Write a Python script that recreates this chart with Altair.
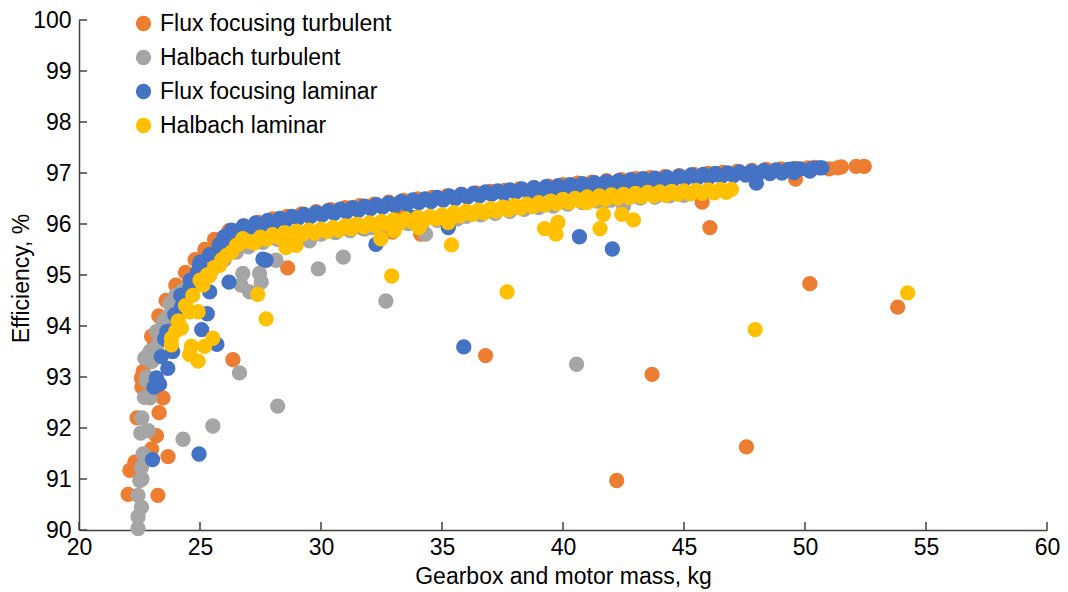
import altair as alt
import pandas as pd

series_names = ["Flux focusing turbulent", "Halbach turbulent", "Flux focusing laminar", "Halbach laminar"]
series_colors = ["#ED7D31", "#A5A5A5", "#4472C4", "#FFC000"]

x_ticks = [20, 25, 30, 35, 40, 45, 50, 55, 60]
y_ticks = [90, 91, 92, 93, 94, 95, 96, 97, 98, 99, 100]

# Flux focusing turbulent
fft_x = [22.03, 22.1, 22.31, 23.26, 23.0, 23.68, 23.2, 23.31, 22.79, 23.47, 22.58, 22.65, 22.9, 23.1,
         23.47, 23.3, 23.8, 24.1, 24.5, 24.9, 25.4, 25.88, 25.6, 26.36, 28.62, 26.0,
         22.4, 22.6, 22.8, 23.0, 23.3, 23.6, 24.0, 24.4, 24.8, 25.2, 25.6,
         36.8, 43.68, 47.58, 42.22, 50.2, 53.83, 32.74, 32.95, 33.37, 34.12, 45.75, 46.07, 49.61,
         51.36, 52.11, 52.45, 50.12, 51.0, 51.5,
         26.2, 26.8, 27.4, 28.0, 28.6, 29.2, 29.8, 30.4, 31.0, 31.6, 32.2, 32.8, 33.4, 34.0, 34.6,
         35.2, 35.8, 36.4, 37.0, 37.6, 38.2, 38.8, 39.4, 40.0, 40.6, 41.2, 41.8, 42.4, 43.0, 43.6,
         44.2, 44.8, 45.4, 46.0, 46.6, 47.2, 47.8, 48.4, 49.0, 49.6, 50.4]
fft_y = [90.7, 91.17, 91.33, 90.68, 91.59, 91.44, 91.85, 92.3, 92.66, 92.59, 92.98, 93.11, 93.3, 93.6,
         94.09, 93.9, 94.2, 94.5, 94.8, 95.05, 95.45, 95.64, 95.3, 93.34, 95.14, 95.6,
         92.2, 92.8, 93.4, 93.8, 94.2, 94.5, 94.8, 95.05, 95.3, 95.5, 95.7,
         93.42, 93.05, 91.63, 90.97, 94.83, 94.37, 95.93, 95.84, 96.13, 95.8, 96.43, 95.93, 96.88,
         97.1, 97.13, 97.13, 97.1, 97.08, 97.12,
         95.87, 95.96, 96.03, 96.1, 96.15, 96.2, 96.24, 96.28, 96.32, 96.36, 96.39, 96.43, 96.46, 96.49, 96.52,
         96.55, 96.58, 96.61, 96.64, 96.66, 96.69, 96.71, 96.74, 96.77, 96.8, 96.82, 96.85, 96.87, 96.89, 96.91,
         96.93, 96.95, 96.97, 96.99, 97.01, 97.03, 97.05, 97.07, 97.08, 97.09, 97.11]

# Halbach turbulent
ht_x = [22.44, 22.44, 22.58, 22.44, 22.51, 22.58, 22.65, 22.86, 22.93, 22.79, 22.72, 22.93, 23.2, 23.75,
        24.3, 24.71, 24.0, 23.5, 25.1, 25.53, 24.3, 26.63, 28.21, 26.77, 27.46, 27.53, 27.05, 26.7,
        28.14, 29.89, 30.92, 29.52, 32.68, 32.06, 34.32, 35.63, 37.62, 39.61, 41.74, 42.5, 40.56,
        22.6, 22.7, 22.8, 23.0, 23.2, 23.4, 23.7, 24.0, 24.4, 24.8, 25.3, 22.55, 22.6,
        25.5, 26.0, 26.5, 27.0,
        27.6, 28.2, 28.8, 29.4, 30.0, 30.6, 31.2, 31.8, 32.4, 33.0, 33.6, 34.2, 34.8, 35.4, 36.0,
        36.6, 37.2, 37.8, 38.4, 39.0, 39.6, 40.2, 40.8, 41.4, 42.0, 42.6, 43.2, 43.8, 44.4, 45.0]
ht_y = [90.03, 90.26, 90.45, 90.68, 90.97, 91.23, 91.49, 91.95, 92.59, 92.92, 93.37, 93.5, 93.89, 94.44,
        94.7, 94.83, 94.6, 94.1, 95.0, 92.04, 91.78, 93.08, 92.43, 95.03, 95.03, 94.86, 94.67, 94.8,
        95.29, 95.12, 95.35, 95.67, 94.49, 95.93, 95.8, 96.1, 96.36, 96.42, 96.45, 96.36, 93.25,
        92.2, 92.6, 93.0, 93.3, 93.6, 93.9, 94.2, 94.45, 94.65, 94.85, 95.0, 91.9, 91.0,
        95.1, 95.3, 95.45, 95.55,
        95.64, 95.7, 95.74, 95.77, 95.8, 95.83, 95.87, 95.9, 95.94, 95.98, 96.01, 96.04, 96.07, 96.11, 96.15,
        96.18, 96.21, 96.25, 96.29, 96.32, 96.35, 96.39, 96.42, 96.45, 96.47, 96.49, 96.51, 96.53, 96.55, 96.56]

# Flux focusing laminar
ffl_x = [23.04, 24.96, 23.2, 23.33, 23.2, 23.67, 23.87, 23.54, 23.63, 23.96, 24.24, 24.57, 24.9, 24.98,
         25.3, 25.07, 25.7, 25.4, 26.2, 26.1, 25.6, 27.6, 27.73, 32.27, 31.71, 33.78, 35.26, 38.72,
         40.68, 42.04, 35.9, 47.99, 49.5, 50.6, 50.3,
         23.4, 23.8, 24.2, 24.6, 25.0, 25.4, 25.8, 26.0, 23.1,
         26.3, 26.8, 27.3, 27.8, 28.3, 28.8, 29.3, 29.8, 30.3, 30.8, 31.3, 31.8, 32.3, 32.8, 33.3,
         33.8, 34.3, 34.8, 35.3, 35.8, 36.3, 36.8, 37.3, 37.8, 38.3, 38.8, 39.3, 39.8, 40.3, 40.8,
         41.3, 41.8, 42.3, 42.8, 43.3, 43.8, 44.3, 44.8, 45.3, 45.8, 46.3, 46.8, 47.3, 47.8, 48.3,
         48.8, 49.3, 49.8, 50.7,
         26.55, 27.05, 27.55, 28.05, 28.55, 29.05, 29.55, 30.05, 30.55, 31.05, 31.55, 32.05, 32.55,
         33.05, 33.55, 34.05, 34.55, 35.05, 35.55, 36.05, 36.55, 37.05, 37.55, 38.05, 38.55, 39.05,
         39.55, 40.05, 40.55, 41.05, 41.55, 42.05, 42.55, 43.05, 43.55, 44.05, 44.55, 45.05, 45.55,
         46.05, 46.55, 47.05, 47.55, 48.05, 48.55, 49.05, 49.55, 50.2]
ffl_y = [91.38, 91.49, 92.98, 92.86, 92.89, 93.17, 93.5, 93.75, 93.89, 94.22, 94.38, 94.73, 95.06, 95.19,
         94.24, 93.93, 93.64, 94.67, 94.86, 95.7, 95.4, 95.31, 95.29, 95.6, 95.93, 96.13, 95.93, 96.42,
         95.75, 95.51, 93.59, 96.8, 97.08, 97.1, 97.09,
         93.4, 93.9, 94.6, 94.9, 95.25, 95.4, 95.6, 95.75, 92.8,
         95.88, 95.96, 96.02, 96.07, 96.11, 96.15, 96.19, 96.22, 96.26, 96.29, 96.32, 96.35, 96.38, 96.41, 96.44,
         96.47, 96.49, 96.52, 96.55, 96.58, 96.6, 96.63, 96.65, 96.67, 96.69, 96.71, 96.73, 96.75, 96.77, 96.79,
         96.81, 96.83, 96.85, 96.87, 96.89, 96.9, 96.92, 96.94, 96.96, 96.97, 96.99, 97.0, 97.02, 97.03, 97.05,
         97.06, 97.07, 97.08, 97.1,
         95.86, 95.93, 95.98, 96.03, 96.07, 96.11, 96.14, 96.18, 96.21, 96.24, 96.27, 96.3, 96.33,
         96.36, 96.39, 96.42, 96.44, 96.47, 96.5, 96.53, 96.55, 96.58, 96.6, 96.62, 96.64, 96.66,
         96.68, 96.7, 96.72, 96.74, 96.76, 96.78, 96.8, 96.82, 96.83, 96.85, 96.87, 96.89, 96.9,
         96.92, 96.93, 96.95, 96.96, 96.98, 96.99, 97.0, 97.01, 97.04]

# Halbach laminar
hl_x = [24.23, 23.82, 23.82, 24.64, 24.57, 24.92, 25.19, 25.53, 24.57, 24.92, 25.12, 25.4, 25.81, 26.09,
        26.5, 26.77, 27.39, 27.73, 28.55, 28.97, 32.47, 32.92, 33.02, 31.39, 34.05, 35.26, 35.39, 37.69,
        39.24, 39.79, 39.71, 41.67, 41.53, 42.43, 42.91, 40.99, 47.94, 54.24, 24.0,
        24.1, 24.4, 24.7, 25.0, 25.3, 25.6, 25.9, 26.3, 26.6,
        27.0, 27.5, 28.0, 28.5, 29.0, 29.5, 30.0, 30.5, 31.0, 31.5, 32.0, 32.5, 33.0, 33.5, 34.0,
        34.5, 35.0, 35.5, 36.0, 36.5, 37.0, 37.5, 38.0, 38.5, 39.0, 39.5, 40.0, 40.5, 41.0, 41.5,
        42.0, 42.5, 43.0, 43.5, 44.0, 44.5, 45.0, 45.5, 46.0, 46.5, 46.96,
        27.25, 27.75, 28.25, 28.75, 29.25, 29.75, 30.25, 30.75, 31.25, 31.75, 32.25, 32.75, 33.25,
        33.75, 34.25, 34.75, 35.25, 35.75, 36.25, 36.75, 37.25, 37.75, 38.25, 38.75, 39.25, 39.75,
        40.25, 40.75, 41.25, 41.75, 42.25, 42.75, 43.25, 43.75, 44.25, 44.75, 45.25, 45.75, 46.25, 46.75]
hl_y = [93.96, 93.76, 93.63, 93.6, 93.44, 93.31, 93.6, 93.76, 94.28, 94.28, 94.8, 94.99, 95.19, 95.38,
        95.58, 95.71, 94.62, 94.14, 95.54, 95.58, 95.71, 94.98, 95.87, 95.98, 95.93, 96.03, 95.59, 94.67,
        95.91, 96.03, 95.8, 96.19, 95.91, 96.19, 96.08, 96.42, 93.93, 94.65, 93.9,
        94.1, 94.4, 94.6, 94.9, 95.0, 95.15, 95.3, 95.45, 95.6,
        95.66, 95.74, 95.79, 95.83, 95.86, 95.88, 95.9, 95.93, 95.96, 95.99, 96.02, 96.05, 96.08, 96.1, 96.13,
        96.15, 96.18, 96.22, 96.25, 96.27, 96.3, 96.33, 96.36, 96.39, 96.42, 96.45, 96.48, 96.5, 96.53, 96.55,
        96.57, 96.58, 96.6, 96.62, 96.63, 96.64, 96.65, 96.66, 96.67, 96.68, 96.68,
        95.63, 95.7, 95.74, 95.77, 95.8, 95.82, 95.85, 95.88, 95.91, 95.94, 95.97, 96.0, 96.02,
        96.05, 96.07, 96.1, 96.13, 96.16, 96.19, 96.22, 96.25, 96.28, 96.31, 96.34, 96.37, 96.4,
        96.42, 96.45, 96.47, 96.49, 96.51, 96.52, 96.54, 96.55, 96.56, 96.58, 96.59, 96.6, 96.61, 96.62]

rows = []
for name, xs, ys in zip(series_names, [fft_x, ht_x, ffl_x, hl_x], [fft_y, ht_y, ffl_y, hl_y]):
    for xv, yv in zip(xs, ys):
        rows.append({"series": name, "mass": xv, "eff": yv, "idx": len(rows)})
df = pd.DataFrame(rows)

W, H = 968, 510
FONT = "Liberation Sans"
AX = "#404040"
MS = 235

points = alt.Chart(df).mark_circle(size=MS, opacity=1).encode(
    x=alt.X("mass:Q", scale=alt.Scale(domain=[20, 60], nice=False, zero=False),
            axis=alt.Axis(values=x_ticks, title="Gearbox and motor mass, kg", ticks=False, grid=False,
                          labelFlush=False, labelPadding=6, titleBaseline="alphabetic",
                          titleY=53, titleX=W / 2)),
    y=alt.Y("eff:Q", scale=alt.Scale(domain=[90, 100], nice=False, zero=False),
            axis=alt.Axis(values=y_ticks, title="Efficiency, %", ticks=False, grid=False,
                          labelFlush=False, labelPadding=8, titleBaseline="alphabetic", titleAngle=270,
                          titleX=-51, titleY=258, titleAlign="center")),
    color=alt.Color("series:N", scale=alt.Scale(domain=series_names, range=series_colors),
                    legend=alt.Legend(orient="none", legendX=53, legendY=-8, title=None,
                                      symbolType="circle", symbolSize=MS, symbolOpacity=1,
                                      symbolStrokeWidth=0, labelFontSize=23, labelFont=FONT,
                                      labelColor="#000000", labelOffset=5, rowPadding=10,
                                      labelLimit=0)),
    order=alt.Order("idx:Q"),
)

xt = pd.DataFrame({"v": x_ticks})
yt = pd.DataFrame({"v": y_ticks})
xtick_layer = alt.Chart(xt).mark_rule(color=AX, strokeWidth=1.5).encode(
    x="v:Q", y=alt.value(H - 8), y2=alt.value(H))
ytick_layer = alt.Chart(yt).mark_rule(color=AX, strokeWidth=1.5).encode(
    y="v:Q", x=alt.value(0), x2=alt.value(8))

chart = alt.layer(points, xtick_layer, ytick_layer).properties(
    width=W, height=H,
    autosize=alt.AutoSizeParams(type="none"),
    padding={"left": 71, "top": 12, "right": 13, "bottom": 62},
).configure_view(stroke=None).configure_axis(
    domainColor=AX, domainWidth=1.5, labelFont=FONT, labelFontSize=23, labelColor="#000000",
    titleFont=FONT, titleFontSize=23, titleColor="#000000", titleFontWeight="normal",
)

chart.save("out.html", embed_options={"renderer": "svg", "actions": False})
